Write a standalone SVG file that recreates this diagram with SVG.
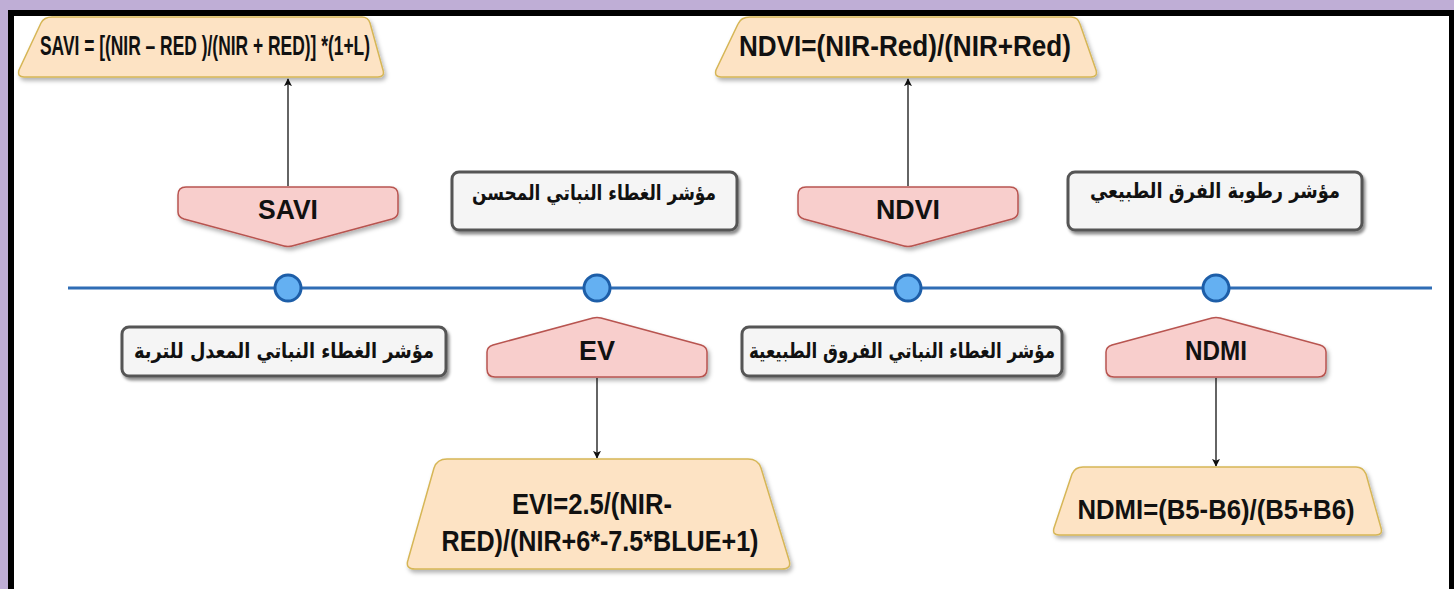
<svg xmlns="http://www.w3.org/2000/svg" width="1454" height="589" viewBox="0 0 1454 589">
<style>
.frm{fill:#fde3c4;stroke:#d6b656;stroke-width:1.5;filter:url(#sh)}
.pink{fill:#f8cecc;stroke:#b85450;stroke-width:1.5;filter:url(#sh)}
.gray{fill:#f5f5f5;stroke:#555;stroke-width:3;filter:url(#sh2)}
.lat{font-family:"Liberation Sans",Arial,sans-serif;font-weight:bold;fill:#111;text-anchor:middle}
.ar{font-family:"DejaVu Sans","Noto Sans",sans-serif;font-weight:bold;fill:#111;text-anchor:middle;font-size:21px}
.con{stroke:#111;stroke-width:1.3;fill:none;marker-end:url(#ah)}
.dot{fill:#64b0f2;stroke:#1d5ea8;stroke-width:3}
</style>
<defs>
<filter id="sh" x="-10%" y="-20%" width="125%" height="150%">
<feDropShadow dx="2" dy="3" stdDeviation="2" flood-color="#000" flood-opacity="0.3"/>
</filter>
<filter id="sh2" x="-10%" y="-20%" width="125%" height="150%">
<feDropShadow dx="2" dy="3" stdDeviation="1.5" flood-color="#000" flood-opacity="0.45"/>
</filter>
<marker id="ah" viewBox="0 0 10 10" refX="9" refY="5" markerWidth="8" markerHeight="8" markerUnits="userSpaceOnUse" orient="auto">
<path d="M0,0 L10,5 L0,10 L2.5,5 Z" fill="#111"/>
</marker>
</defs>
<rect x="0" y="0" width="1454" height="589" fill="#bfaed6"/>
<rect x="8" y="10" width="1446" height="590" fill="#000"/>
<rect x="14" y="16" width="1435" height="590" fill="#fff"/>

<g id="timeline">
<line x1="68" y1="288" x2="1432" y2="288" stroke="#2f6db5" stroke-width="3"/>
</g>

<g id="connectors">
<line class="con" x1="288" y1="186" x2="288" y2="79"/>
<line class="con" x1="908" y1="186" x2="908" y2="79"/>
<line class="con" x1="597" y1="378" x2="597" y2="458"/>
<line class="con" x1="1216" y1="378" x2="1216" y2="466"/>
</g>

<g id="dot-savi"><circle class="dot" cx="288" cy="288" r="13"/></g>
<g id="dot-evi"><circle class="dot" cx="597" cy="288" r="13"/></g>
<g id="dot-ndvi"><circle class="dot" cx="908" cy="288" r="13"/></g>
<g id="dot-ndmi"><circle class="dot" cx="1216" cy="288" r="13"/></g>

<g id="savi-formula">
<path class="frm" d="M 52 17 L 362 17 Q 368 17 370 23 L 383 70 Q 385 77 378 77 L 24 77 Q 17 77 19 70 L 41 23 Q 44 17 52 17 Z"/>
<text class="lat" x="205" y="55" font-size="28" textLength="330" lengthAdjust="spacingAndGlyphs">SAVI = [(NIR – RED )/(NIR + RED)] *(1+L)</text>
</g>

<g id="ndvi-formula">
<path class="frm" d="M 750 17 L 1071 17 Q 1078 17 1080 24 L 1096 70 Q 1098 77 1091 77 L 721 77 Q 714 77 716 70 L 738 24 Q 741 17 750 17 Z"/>
<text class="lat" x="905" y="56" font-size="29" textLength="332" lengthAdjust="spacingAndGlyphs">NDVI=(NIR-Red)/(NIR+Red)</text>
</g>

<g id="savi">
<path class="pink" d="M 186 187 L 390 187 Q 398 187 398 195 L 398 212 Q 398 217 392 219 L 292 246 Q 288 247 284 246 L 184 219 Q 178 217 178 212 L 178 195 Q 178 187 186 187 Z"/>
<text class="lat" x="288" y="219" font-size="28" textLength="60" lengthAdjust="spacingAndGlyphs">SAVI</text>
</g>

<g id="evi-ar">
<rect class="gray" x="452" y="172" width="285" height="58" rx="7"/>
<text class="ar" x="594" y="200" textLength="244" lengthAdjust="spacingAndGlyphs">مؤشر الغطاء النباتي المحسن</text>
</g>

<g id="ndvi">
<path class="pink" d="M 806 187 L 1010 187 Q 1018 187 1018 195 L 1018 212 Q 1018 217 1012 219 L 912 246 Q 908 247 904 246 L 804 219 Q 798 217 798 212 L 798 195 Q 798 187 806 187 Z"/>
<text class="lat" x="908" y="219" font-size="28" textLength="64" lengthAdjust="spacingAndGlyphs">NDVI</text>
</g>

<g id="ndmi-ar">
<rect class="gray" x="1068" y="172" width="294" height="58" rx="7"/>
<text class="ar" x="1215" y="198" textLength="250" lengthAdjust="spacingAndGlyphs">مؤشر رطوبة الفرق الطبيعي</text>
</g>

<g id="savi-ar">
<rect class="gray" x="122" y="327" width="324" height="49" rx="7"/>
<text class="ar" x="284" y="358" textLength="300" lengthAdjust="spacingAndGlyphs">مؤشر الغطاء النباتي المعدل للتربة</text>
</g>

<g id="ev">
<path class="pink" d="M 495 377 L 699 377 Q 707 377 707 369 L 707 352 Q 707 347 701 345 L 601 318 Q 597 317 593 318 L 493 345 Q 487 347 487 352 L 487 369 Q 487 377 495 377 Z"/>
<text class="lat" x="597" y="360" font-size="28" textLength="36" lengthAdjust="spacingAndGlyphs">EV</text>
</g>

<g id="ndvi-ar">
<rect class="gray" x="742" y="327" width="320" height="49" rx="7"/>
<text class="ar" x="902" y="358" textLength="306" lengthAdjust="spacingAndGlyphs">مؤشر الغطاء النباتي الفروق الطبيعية</text>
</g>

<g id="ndmi">
<path class="pink" d="M 1114 377 L 1318 377 Q 1326 377 1326 369 L 1326 352 Q 1326 347 1320 345 L 1220 318 Q 1216 317 1212 318 L 1112 345 Q 1106 347 1106 352 L 1106 369 Q 1106 377 1114 377 Z"/>
<text class="lat" x="1216" y="360" font-size="28" textLength="62" lengthAdjust="spacingAndGlyphs">NDMI</text>
</g>

<g id="evi-formula">
<path class="frm" d="M 447 459 L 748 459 Q 758 459 761 468 L 789 560 Q 792 569 782 569 L 415 569 Q 405 569 408 560 L 434 468 Q 437 459 447 459 Z"/>
<text class="lat" font-size="29">
<tspan x="596" y="514" textLength="160" lengthAdjust="spacingAndGlyphs">EVI=2.5/(NIR-</tspan>
<tspan x="600" y="551" textLength="317" lengthAdjust="spacingAndGlyphs">RED)/(NIR+6*-7.5*BLUE+1)</tspan>
</text>
</g>

<g id="ndmi-formula">
<path class="frm" d="M 1083 467 L 1356 467 Q 1363 467 1366 474 L 1381 528 Q 1383 535 1376 535 L 1059 535 Q 1052 535 1054 528 L 1072 474 Q 1075 467 1083 467 Z"/>
<text class="lat" x="1216" y="519" font-size="28" textLength="277" lengthAdjust="spacingAndGlyphs">NDMI=(B5-B6)/(B5+B6)</text>
</g>
</svg>
